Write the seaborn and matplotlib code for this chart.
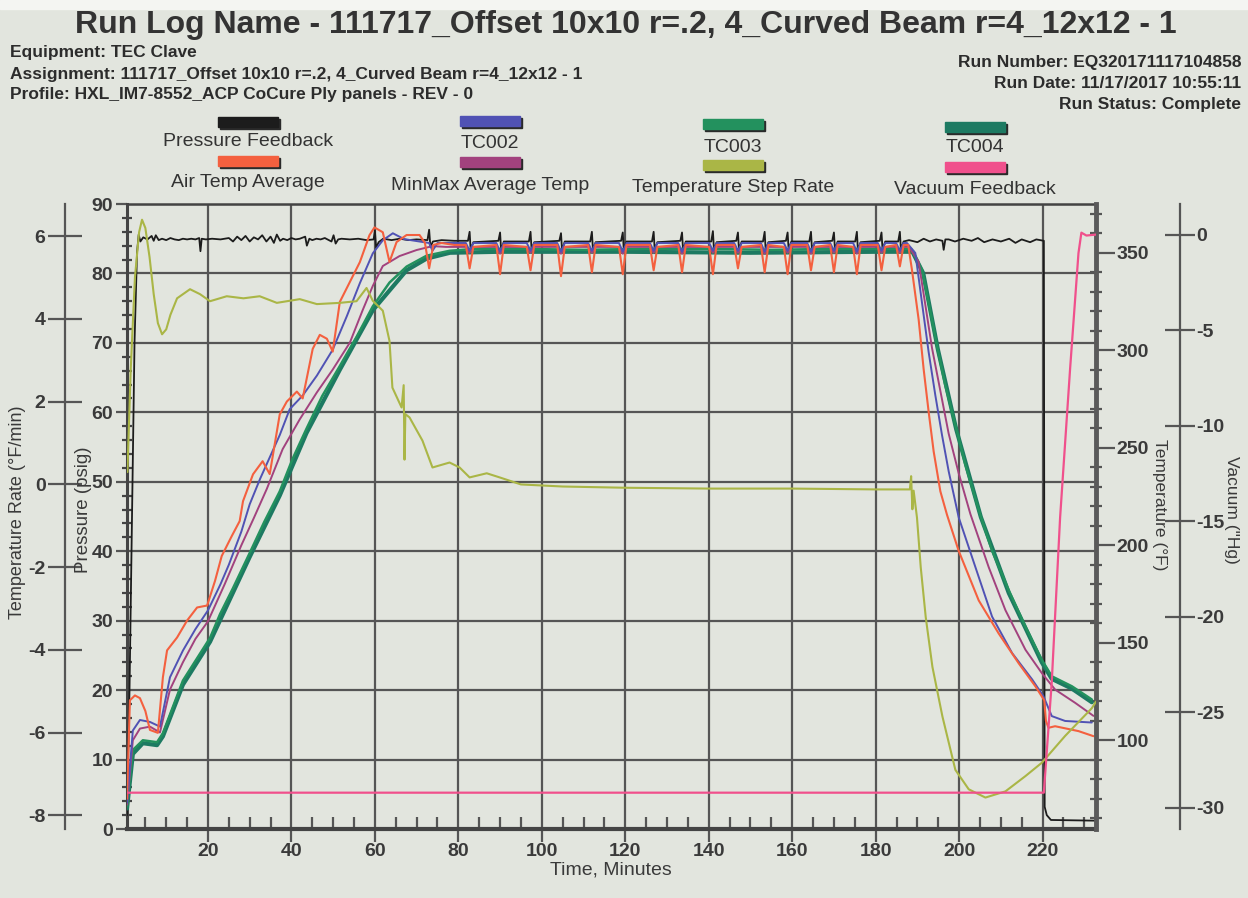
import numpy as np
import pandas as pd
import matplotlib
matplotlib.use("Agg")
import matplotlib.pyplot as plt
import seaborn as sns
from matplotlib.patches import Rectangle
from matplotlib.ticker import MultipleLocator

# ------------------------------------------------------------------ data
# Pressure Feedback (psig)
press_t = [0.6, 1.2, 1.8, 2.4, 3.0, 3.4, 3.8, 4.5, 5.5, 6.5, 7.0, 7.5, 8.2, 9, 10, 11, 12, 13, 14, 15, 16, 17,
           17.9, 18.2, 18.5, 19.5, 21, 23, 25, 26, 27, 28, 29, 30, 31, 32, 33, 34, 35, 35.8, 36.5, 37.3, 38, 39,
           40, 41, 42, 43.3, 43.7, 44.3, 45, 46, 47, 48, 49.6, 50.1, 50.6, 51.2, 52, 54, 56, 58, 59.7, 60.0,
           60.3, 60.9, 62, 64, 66, 68, 70, 72.6, 73.0, 73.3, 73.9, 76, 79,
           82.3, 82.7, 82.95, 83.6, 89.6, 90.0, 90.25, 90.9, 96.9, 97.3, 97.55, 98.2, 104.2, 104.6, 104.85, 105.5,
           111.6, 112.0, 112.25, 112.9, 119.0, 119.4, 119.65, 120.3, 126.4, 126.8, 127.05, 127.7,
           133.2, 133.6, 133.85, 134.5, 140.6, 141.0, 141.25, 141.9, 146.6, 147.0, 147.25, 147.9,
           153.0, 153.4, 153.65, 154.3, 158.5, 158.9, 159.15, 159.8, 164.1, 164.5, 164.75, 165.4,
           169.6, 170.0, 170.25, 170.9, 175.1, 175.5, 175.75, 176.4, 181.0, 181.4, 181.65, 182.3,
           185.4, 185.8, 186.05, 186.7,
           188, 190, 191.5, 193, 194.5, 196.0, 196.3, 196.7, 197.5, 199, 201, 203, 204.5, 206, 208, 210, 212,
           213.5, 215, 217, 218.5, 220.3, 220.5, 221.0, 222.0, 232.8]
press_v = [2, 20, 45, 70, 83, 85.6, 84.6, 85.2, 84.9, 85.4, 84.7, 85.5, 84.8, 85.0, 84.8, 85.1, 84.9, 84.8, 85.0,
           84.9, 85.0, 84.9, 85.1, 83.2, 85.0, 84.9, 85.0, 84.9, 85.1, 84.6, 85.3, 84.8, 85.4, 84.6, 85.2, 84.9,
           85.5, 84.6, 85.3, 84.4, 85.6, 84.7, 85.0, 84.8, 85.1, 84.9, 85.0, 85.3, 84.0, 85.0, 84.8, 85.0, 84.9,
           85.1, 84.6, 85.5, 84.3, 84.9, 85.0, 84.9, 85.0, 84.8, 84.9, 86.2, 83.7, 84.5, 85.0, 84.8, 85.0, 84.8,
           84.9, 84.8, 86.3, 83.8, 84.6, 84.8, 84.7,
           84.7, 86.0, 83.4, 84.5, 84.7, 85.9, 83.3, 84.6, 84.6, 86.0, 83.4, 84.5, 84.7, 85.8, 83.3, 84.6,
           84.6, 86.0, 83.4, 84.5, 84.7, 85.9, 83.3, 84.6, 84.6, 86.0, 83.4, 84.5,
           84.7, 85.9, 83.3, 84.6, 84.6, 86.1, 83.4, 84.5, 84.7, 85.9, 83.4, 84.6,
           84.6, 86.0, 83.3, 84.5, 84.7, 85.9, 83.4, 84.6, 84.6, 86.0, 83.3, 84.5,
           84.7, 85.9, 83.4, 84.6, 84.6, 86.0, 83.3, 84.5, 84.7, 85.9, 83.4, 84.6,
           84.6, 86.0, 83.4, 84.6,
           84.8, 84.5, 85.0, 84.6, 84.9, 84.7, 83.4, 84.9, 84.9, 84.6, 85.0, 84.7, 85.1, 84.5, 84.9, 84.6, 85.0,
           84.4, 84.9, 84.5, 84.9, 84.7, 3.2, 2.0, 1.3, 1.2]

# shared time stamps of the hold-phase oscillations (temperatures)
hold_t = [81.8, 82.7, 83.6, 89.1, 90.0, 90.9, 96.4, 97.3, 98.2, 103.7, 104.6, 105.5, 111.1, 112.0, 112.9,
          118.5, 119.4, 120.3, 125.9, 126.8, 127.7, 132.7, 133.6, 134.5, 140.1, 141.0, 141.9, 146.1, 147.0,
          147.9, 152.5, 153.4, 154.3, 158.0, 158.9, 159.8, 163.6, 164.5, 165.4, 169.1, 170.0, 170.9, 174.6,
          175.5, 176.4, 180.5, 181.4, 182.3, 184.9, 185.8, 186.7]

# Air Temp Average (F)
air_t_a = [0.6, 1.3, 2.5, 3.7, 5.0, 6.1, 8.0, 9.2, 10.2, 12.6, 15.0, 17.4, 19.8, 21.7, 23.3, 25.7, 27.6, 28.4,
           30.8, 33.1, 34.8, 37.2, 38.9, 41.3, 42.7, 45.1, 46.8, 48.5, 49.9, 51.6, 54.0, 56.4, 58.7, 59.9, 61.9,
           63.5, 65.2, 67.6, 70.7, 72.0, 73.0, 74.0, 76.0, 79.0]
air_v_a = [70, 120.5, 123, 121.6, 115, 105.3, 103.8, 132.3, 146.1, 152.7, 161.4, 168.1, 169.1, 181.8, 194.5,
           204.7, 212.4, 222.6, 236.4, 243.1, 236.5, 267.1, 273.7, 278.8, 275.3, 300.7, 307.9, 305.9, 299.3,
           324.8, 335, 345.2, 359, 363, 360.5, 345.3, 355.5, 359.1, 359.1, 355, 342, 354, 355, 354]
air_hold = [354, 342, 353, 354, 339, 354, 353, 341, 354, 354, 338, 353, 354, 340, 354, 353, 339, 354, 354, 341,
            353, 354, 340, 354, 353, 339, 354, 354, 342, 353, 354, 340, 354, 353, 339, 354, 354, 341, 353, 354,
            340, 354, 353, 339, 354, 354, 341, 353, 354, 343, 354]
air_t_b = [187.8, 188.7, 190.3, 191.5, 192.7, 193.9, 195.5, 197.1, 199.9, 204.7, 209.5, 214.3, 218.3, 220.4,
           220.8, 221.4, 223.0, 228.6, 232.2]
air_v_b = [354, 341.2, 315.8, 290.3, 268.4, 248.1, 227.7, 215.6, 197.1, 171.7, 154.7, 139.4, 127.6, 120.5, 110,
           106.4, 107.2, 104.7, 102.1]

# TC002 (F)
tc2_t_a = [0.6, 2.0, 3.7, 6.1, 8.5, 10.9, 14.0, 17.0, 20.0, 23.0, 25.0, 28.0, 30.0, 32.5, 37.2, 39.6, 42.7, 46.1,
           49.9, 53.3, 56.4, 59.5, 61.9, 64.3, 67.0, 70.0, 73.0, 73.8, 75.0, 78.0]
tc2_v_a = [68, 105, 110.4, 109.4, 107, 132.3, 146, 157, 166.6, 180, 190, 207, 221, 234.1, 256.5, 269.8, 276.8,
           287, 300.3, 317.6, 334.4, 349.7, 356.4, 360, 357, 356, 355, 351, 355, 355]
tc2_hold = [355, 351, 355, 355, 350.5, 355, 355, 351, 355, 355, 350.5, 355, 355, 351, 355, 355, 350.5, 355,
            355, 351, 355, 355, 350.5, 355, 355, 351, 355, 355, 351, 355, 355, 350.5, 355, 355, 351, 355, 355,
            350.5, 355, 355, 351, 355, 355, 350.5, 355, 355, 351, 355, 355, 351, 355]
tc2_t_b = [187.5, 189.5, 191.1, 192.7, 194.3, 195.9, 197.5, 199.9, 203.9, 207.9, 212.7, 217.5, 220.2, 222.2,
           225.4, 231.8]
tc2_v_b = [355, 349.9, 324.4, 299, 276.9, 256.5, 237.9, 214.3, 188.8, 163.4, 144.7, 131.2, 122.6, 112.4, 109.9,
           109.1]

# MinMax Average Temp (F)
mm_t_a = [0.6, 2.0, 3.7, 6.1, 8.5, 10.9, 14.0, 17.0, 20.0, 24.0, 28.0, 31.0, 34.1, 37.9, 42.0, 46.1, 49.9, 54.0,
          57.1, 59.5, 61.9, 65.9, 70.0, 73.8, 77.0, 80.0]
mm_v_a = [67, 100, 106, 107, 104, 126, 140, 152, 161, 180, 200, 214, 228.9, 249.3, 264.6, 278.4, 290.1, 303.9,
          320.7, 333, 343.2, 348.3, 351.4, 353.4, 353, 353]
mm_hold = [353, 350, 353, 353, 349.5, 353, 353, 350, 353, 353, 349.5, 353, 353, 350, 353, 353, 349.5, 353, 353,
           350, 353, 353, 349.5, 353, 353, 350, 353, 353, 350, 353, 353, 349.5, 353, 353, 350, 353, 353, 349.5,
           353, 353, 350, 353, 353, 349.5, 353, 353, 350, 353, 353, 350, 353]
mm_t_b = [188.0, 190.3, 191.9, 193.5, 195.5, 197.5, 199.9, 202.7, 207.1, 211.1, 215.9, 219.8, 223.0, 227.8, 232.2]
mm_v_b = [353, 345.3, 323.3, 301.2, 279.2, 257.2, 236.9, 216, 188.7, 166.7, 146.4, 134.5, 126, 119.2, 112.5]

# TC003 (F)
tc3_t = [0.6, 2.0, 4.4, 7.8, 9.2, 14.0, 20.5, 22.9, 26.0, 30.0, 33.5, 37.2, 40.3, 43.6, 47.4, 51.6, 55.7, 59.5,
         63.5, 67.6, 72.4, 77.9, 84, 95, 110, 125, 140, 155, 170, 180, 188.5, 191.1, 192.7, 194.7, 196.7, 199.1,
         201.5, 205.0, 207.9, 211.9, 215.9, 219.8, 222.2, 227.0, 231.8]
tc3_v = [66, 95, 100, 99, 103.6, 130.6, 152.5, 164.7, 178, 196, 212, 227.6, 244.4, 259.7, 276.6, 291.9, 307.2,
         322.5, 334.7, 342.9, 348.5, 351, 352, 352, 351.5, 352, 352, 351.5, 352, 352, 352, 341.2, 324.3, 302.2,
         281.9, 261.6, 241.3, 216, 197.2, 176.9, 158.2, 141.3, 132.8, 127.7, 120.9]

# TC004 (F)
tc4_t = [0.6, 2.0, 4.4, 7.8, 9.2, 14.0, 20.5, 23.0, 30.0, 37.2, 43.6, 51.6, 59.5, 67.6, 72.4, 78.0, 90, 120, 150,
         180, 188.8, 191.4, 194.9, 199.3, 205.2, 211.9, 219.8, 222.2, 227.0, 231.8]
tc4_v = [65, 93, 98.5, 97.5, 102, 128.5, 150.5, 162, 194, 225.5, 257.5, 290, 320.5, 341, 347, 350, 350.5, 350.5,
         350, 350.5, 350.5, 339.5, 300.5, 259.5, 214.5, 175.5, 140, 131.5, 126.5, 119.5]

# Temperature Step Rate (F/min)
rate_t = [0.7, 1.5, 2.5, 3.5, 4.2, 5.0, 6.0, 7.0, 8.0, 9.0, 10.0, 11.0, 12.6, 15.7, 18.1, 20.5, 24.5, 28.5, 32.4,
          36.5, 42.0, 46.1, 51.6, 55.6, 58.0, 59.5, 61.9, 63.5, 64.2, 66.4, 66.9, 67.1, 67.3, 68.3, 71.4, 73.8,
          77.9, 80.3, 82.7, 86.8, 89.9, 95, 105, 120, 140, 160, 180, 188.2, 188.5, 188.8, 189.1, 189.9, 190.8,
          192.0, 193.6, 196.0, 199.1, 202.3, 206.3, 211.1, 215.9, 219.8, 225.4, 231.8, 232.8]
rate_v = [0.3, 2.8, 5.0, 6.1, 6.4, 6.2, 5.5, 4.6, 3.9, 3.63, 3.75, 4.1, 4.5, 4.72, 4.6, 4.43, 4.55, 4.5, 4.55,
          4.39, 4.48, 4.36, 4.39, 4.43, 4.75, 4.44, 4.2, 3.47, 2.34, 1.86, 2.4, 0.6, 1.7, 1.62, 1.06, 0.41, 0.53,
          0.41, 0.17, 0.27, 0.17, 0.0, -0.05, -0.08, -0.1, -0.1, -0.12, -0.12, 0.2, -0.6, -0.15, -0.8, -2.0,
          -3.21, -4.41, -5.61, -6.9, -7.37, -7.57, -7.42, -7.05, -6.73, -6.08, -5.41, -5.25]

# Vacuum Feedback ("Hg)
vac_t = [0.6, 100, 220.3, 222.2, 224.2, 226.6, 228.6, 229.3, 230.5, 232.8]
vac_v = [-29.2, -29.2, -29.2, -23.4, -14.8, -7.0, -0.97, 0.1, -0.05, 0.0]

x_ticks = [20, 40, 60, 80, 100, 120, 140, 160, 180, 200, 220]
p_ticks = [0, 10, 20, 30, 40, 50, 60, 70, 80, 90]
t_ticks = [100, 150, 200, 250, 300, 350]
r_ticks = [-8, -6, -4, -2, 0, 2, 4, 6]
v_ticks = [0, -5, -10, -15, -20, -25, -30]

# ------------------------------------------------------------------ style
sns.set_theme(style="white")
plt.rcParams['font.family'] = ['Liberation Sans', 'DejaVu Sans']
plt.rcParams['axes.unicode_minus'] = False

W, H = 1248, 898
BG = '#e2e5de'
INK = '#3a3a3a'
C_BLACK = '#1c1c1c'
C_AIR = '#f4603f'
C_TC2 = '#5052b4'
C_MM = '#a2427e'
C_TC3 = '#23915e'
C_TC4 = '#1d7a62'
C_RATE = '#aab646'
C_VAC = '#f0508c'
TICK_FS = 14
HEAD_FS = 12.5
LEG_FS = 14

fig = plt.figure(figsize=(W / 100, H / 100), dpi=100)
fig.patch.set_facecolor(BG)


def fx(px):
    return px / W


def fy(py):
    return 1 - py / H


# white strip at top of scan
fig.add_artist(Rectangle((0, fy(9)), 1, 9 / H, transform=fig.transFigure, color='#f4f5f2', zorder=0))

L, R, T, B = 127, 1096, 204, 829
ax = fig.add_axes([fx(L), fy(B), (R - L) / W, (B - T) / H])
ax.set_facecolor(BG)

ax_t = ax.twinx()
ax_r = ax.twinx()
ax_v = ax.twinx()

# --- pressure (main axes)
sns.lineplot(x=press_t, y=press_v, ax=ax, color=C_BLACK, linewidth=1.3, sort=False, estimator=None, zorder=5)
ax.set_xlim(0.6, 232.8)
ax.set_ylim(0, 90)
ax.set_xticks(x_ticks)
ax.set_yticks(p_ticks)
ax.xaxis.set_minor_locator(MultipleLocator(5))
ax.yaxis.set_minor_locator(MultipleLocator(2))
ax.grid(True, which='major', color='#555555', linewidth=1.6, zorder=0)
ax.set_axisbelow(True)
ax.tick_params(axis='x', which='major', direction='out', length=9, width=1.6, color='#555555',
               labelsize=TICK_FS, labelcolor=INK, pad=1, bottom=True)
ax.tick_params(axis='x', which='minor', direction='in', length=9, width=1.6, color='#555555', bottom=True)
ax.tick_params(axis='y', which='major', direction='out', length=8, width=1.6, color='#555555',
               labelsize=TICK_FS, labelcolor=INK, pad=2, left=True)
ax.tick_params(axis='y', which='minor', direction='inout', length=7, width=1.6, color='#444444', left=True)
for lab in ax.get_xticklabels() + ax.get_yticklabels():
    lab.set_fontweight('bold')
for s in ['left', 'bottom', 'top']:
    ax.spines[s].set_color('#444444')
ax.spines['left'].set_linewidth(2.2)
ax.spines['bottom'].set_linewidth(3.0)
ax.spines['top'].set_linewidth(1.8)
ax.spines['right'].set_visible(False)
ax.set_xlabel('')
ax.set_ylabel('')

# --- temperatures (right inner axis)
for tt, vv, col, lw in [
        (tc4_t, tc4_v, C_TC4, 3.0),
        (tc3_t, tc3_v, C_TC3, 1.8),
        (mm_t_a + hold_t + mm_t_b, mm_v_a + mm_hold + mm_v_b, C_MM, 1.4),
        (tc2_t_a + hold_t + tc2_t_b, tc2_v_a + tc2_hold + tc2_v_b, C_TC2, 1.4),
        (air_t_a + hold_t + air_t_b, air_v_a + air_hold + air_v_b, C_AIR, 1.5)]:
    sns.lineplot(x=tt, y=vv, ax=ax_t, color=col, linewidth=lw, sort=False, estimator=None)
ax_t.set_ylim(54.5, 375)
ax_t.set_yticks(t_ticks)
ax_t.yaxis.set_minor_locator(MultipleLocator(10))
ax_t.tick_params(axis='y', which='major', direction='out', length=14, width=1.6, color='#555555',
                 labelsize=TICK_FS, labelcolor=INK, pad=1, right=True)
ax_t.tick_params(axis='y', which='minor', direction='inout', length=8, width=1.6, color='#555555', right=True)
for lab in ax_t.get_yticklabels():
    lab.set_fontweight('bold')
for s in ['left', 'top', 'bottom']:
    ax_t.spines[s].set_visible(False)
ax_t.spines['right'].set_color('#5a5a5a')
ax_t.spines['right'].set_linewidth(3.5)
ax_t.set_ylabel('')

# --- temperature step rate (far left axis)
sns.lineplot(x=rate_t, y=rate_v, ax=ax_r, color=C_RATE, linewidth=1.5, sort=False, estimator=None)
ax_r.set_ylim(-8.33, 6.78)
ax_r.set_yticks(r_ticks)
ax_r.yaxis.set_ticks_position('left')
ax_r.spines['left'].set_position(('axes', (65 - L) / (R - L)))
ax_r.spines['left'].set_visible(True)
ax_r.spines['left'].set_color('#555555')
ax_r.spines['left'].set_linewidth(1.6)
for s in ['right', 'top', 'bottom']:
    ax_r.spines[s].set_visible(False)
ax_r.tick_params(axis='y', which='major', direction='inout', length=24, width=1.6, color='#555555',
                 labelsize=TICK_FS, labelcolor=INK, pad=2, left=True, right=False)
for lab in ax_r.get_yticklabels():
    lab.set_fontweight('bold')
ax_r.set_ylabel('')

# --- vacuum (far right axis)
sns.lineplot(x=vac_t, y=vac_v, ax=ax_v, color=C_VAC, linewidth=1.6, sort=False, estimator=None)
ax_v.set_ylim(-31.1, 1.6)
ax_v.set_yticks(v_ticks)
ax_v.spines['right'].set_position(('axes', (1180 - L) / (R - L)))
ax_v.spines['right'].set_color('#555555')
ax_v.spines['right'].set_linewidth(1.6)
for s in ['left', 'top', 'bottom']:
    ax_v.spines[s].set_visible(False)
ax_v.tick_params(axis='y', which='major', direction='inout', length=22, width=1.6, color='#555555',
                 labelsize=TICK_FS, labelcolor=INK, pad=1, right=True)
for lab in ax_v.get_yticklabels():
    lab.set_fontweight('bold')
ax_v.set_ylabel('')

# ------------------------------------------------------------------ axis titles
fig.text(fx(18), fy(512), 'Temperature Rate (°F/min)', rotation=90, ha='center', va='center',
         fontsize=13, color=INK)
fig.text(fx(84), fy(510), 'Pressure (psig)', rotation=90, ha='center', va='center', fontsize=13.5, color=INK)
fig.text(fx(1160), fy(505), 'Temperature (°F)', rotation=270, ha='center', va='center', fontsize=12.5,
         color=INK)
fig.text(fx(1232), fy(510), 'Vacuum ("Hg)', rotation=270, ha='center', va='center', fontsize=12.5, color=INK)
fig.text(fx(611), fy(870), 'Time, Minutes', ha='center', va='center', fontsize=14, color=INK)

# ------------------------------------------------------------------ header
fig.text(fx(626), fy(25), 'Run Log Name - 111717_Offset 10x10 r=.2, 4_Curved Beam r=4_12x12 - 1',
         ha='center', va='center', fontsize=23, fontweight='bold', color='#333333')
for txt, yy in [('Equipment: TEC Clave', 53), ('Assignment: 111717_Offset 10x10 r=.2, 4_Curved Beam r=4_12x12 - 1', 75),
                ('Profile: HXL_IM7-8552_ACP CoCure Ply panels - REV - 0', 95)]:
    fig.text(fx(10), fy(yy), txt, ha='left', va='center', fontsize=HEAD_FS, fontweight='bold', color='#2c2c2c')
for txt, yy in [('Run Number: EQ320171117104858', 63), ('Run Date: 11/17/2017 10:55:11', 84),
                ('Run Status: Complete', 104)]:
    fig.text(fx(1241), fy(yy), txt, ha='right', va='center', fontsize=HEAD_FS, fontweight='bold',
             color='#2c2c2c')

# ------------------------------------------------------------------ legend (custom, as in the report)
leg_rows = [
    [('Pressure Feedback', C_BLACK), ('TC002', C_TC2), ('TC003', C_TC3), ('TC004', C_TC4)],
    [('Air Temp Average', C_AIR), ('MinMax Average Temp', C_MM), ('Temperature Step Rate', C_RATE),
     ('Vacuum Feedback', C_VAC)],
]
col_x = [248, 490, 733, 975]
sw_y = [[122, 121, 124, 127], [161, 162, 165, 167]]
lab_y = [[141, 143, 147, 147], [183, 186, 187, 189]]
sw_w, sw_h = 60, 9
for r, row in enumerate(leg_rows):
    for c, (name, col) in enumerate(row):
        cx, cy = col_x[c], sw_y[r][c]
        fig.add_artist(Rectangle((fx(cx - sw_w / 2 + 2), fy(cy + sw_h / 2 + 2)), sw_w / W, sw_h / H,
                                 transform=fig.transFigure, color='#2a2a2a', zorder=3))
        fig.add_artist(Rectangle((fx(cx - sw_w / 2), fy(cy + sw_h / 2)), sw_w / W, sw_h / H,
                                 transform=fig.transFigure, color=col, zorder=4))
        fig.text(fx(cx), fy(lab_y[r][c]), name, ha='center', va='center', fontsize=LEG_FS, color='#333333')

fig.savefig('out.png', dpi=100, facecolor=fig.get_facecolor())
